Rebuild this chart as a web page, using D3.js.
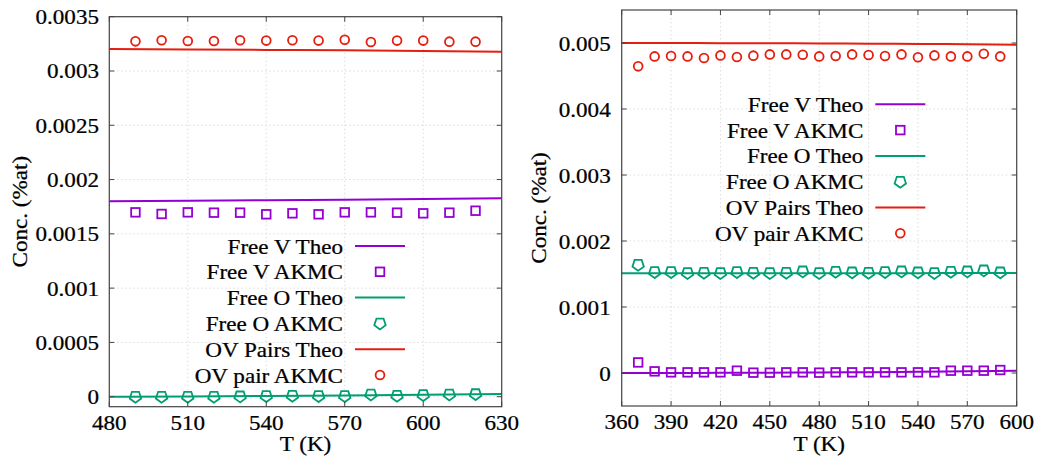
<!DOCTYPE html>
<html>
<head>
<meta charset="utf-8">
<script src="https://cdn.jsdelivr.net/npm/d3@7"></script>
<style>
  body { margin: 0; background: #fff; }
  svg { display: block; }
  text { font-family: "Liberation Serif", "DejaVu Serif", serif; fill: #000; stroke: #000; stroke-width: 0.25px; }
</style>
</head>
<body>
<svg id="chart" width="1046" height="457"></svg>
<script>
// ---- left panel data (T in K, concentrations in %at)
var leftT = [490, 500, 510, 520, 530, 540, 550, 560, 570, 580, 590, 600, 610, 620];
var leftV = [0.001698, 0.001683, 0.001698, 0.001695, 0.001695, 0.00168, 0.001689, 0.00168, 0.001698, 0.001698, 0.001695, 0.001689, 0.001695, 0.001713];
var leftO = [0, 0, 0, 0, 0.000003, 0.000006, 0.000009, 0.000006, 0.000006, 0.000021, 0.000009, 0.000015, 0.000021, 0.000024];
var leftOV = [0.003273, 0.003283, 0.003276, 0.003276, 0.003283, 0.00328, 0.003283, 0.00328, 0.003288, 0.003267, 0.00328, 0.00328, 0.00327, 0.00327];
var leftTheoT = [480, 510, 540, 570, 600, 630];
var leftVTheo = [0.0018, 0.001805, 0.00181, 0.001815, 0.00182, 0.001827];
var leftOTheo = [0, 0.000003, 0.000007, 0.000012, 0.000018, 0.000025];
var leftOVTheo = [0.003202, 0.003198, 0.003194, 0.00319, 0.003185, 0.003178];
var leftXTicks = [480, 510, 540, 570, 600, 630];
var leftYTicks = [0, 0.0005, 0.001, 0.0015, 0.002, 0.0025, 0.003, 0.0035];
var leftYLabels = ["0", "0.0005", "0.001", "0.0015", "0.002", "0.0025", "0.003", "0.0035"];

// ---- right panel data
var rightT = [370, 380, 390, 400, 410, 420, 430, 440, 450, 460, 470, 480, 490, 500, 510, 520, 530, 540, 550, 560, 570, 580, 590];
var rightV = [0.00016, 0.000025, 0.00001, 0.00001, 0.00001, 0.00001, 0.000035, 0.000005, 0.000005, 0.00001, 0.00001, 0.000005, 0.00001, 0.00001, 0.00001, 0.00001, 0.00001, 0.00001, 0.00001, 0.000035, 0.000035, 0.000035, 0.000045];
var rightO = [0.00164, 0.00153, 0.00153, 0.001515, 0.00152, 0.001515, 0.00153, 0.00152, 0.001515, 0.00152, 0.00154, 0.001515, 0.001535, 0.001525, 0.00152, 0.00153, 0.00154, 0.001525, 0.001515, 0.001535, 0.00154, 0.001555, 0.001525];
var rightOV = [0.004646, 0.004797, 0.004803, 0.004797, 0.004773, 0.004812, 0.004788, 0.004808, 0.004827, 0.004827, 0.004823, 0.004797, 0.004803, 0.004827, 0.004818, 0.004803, 0.004827, 0.004783, 0.004812, 0.004797, 0.004797, 0.004838, 0.004797];
var rightTheoT = [360, 390, 420, 450, 480, 510, 540, 570, 600];
var rightVTheo = [0, 0, 0.000002, 0.000004, 0.000008, 0.000012, 0.000018, 0.000026, 0.000035];
var rightOTheo = [0.00151, 0.00151, 0.00151, 0.00151, 0.001511, 0.001512, 0.001513, 0.001514, 0.001515];
var rightOVTheo = [0.005, 0.004999, 0.004998, 0.004996, 0.004993, 0.00499, 0.004986, 0.004981, 0.004975];
var rightXTicks = [360, 390, 420, 450, 480, 510, 540, 570, 600];
var rightYTicks = [0, 0.001, 0.002, 0.003, 0.004, 0.005];
var rightYLabels = ["0", "0.001", "0.002", "0.003", "0.004", "0.005"];

var legendNames = ["Free V Theo", "Free V AKMC", "Free O Theo", "Free O AKMC", "OV Pairs Theo", "OV pair AKMC"];

var purple = "#9400d3", green = "#009e73", red = "#e51e10";
var FS = 21, SX = 1.1;

var svg = d3.select("#chart");

function txt(g, x, y, s, anchor, rot) {
  var t = "translate(" + x + "," + y + ")" + (rot ? " rotate(-90)" : "") + " scale(" + SX + ",1)";
  return g.append("text").attr("transform", t)
    .attr("text-anchor", anchor || "start")
    .style("font-size", FS + "px")
    .text(s);
}

// pentagon with flat top, point down
function pentagon(r) {
  var pts = [0, 1, 2, 3, 4].map(function(i) {
    var a = Math.PI / 2 + i * 2 * Math.PI / 5;
    return [r * Math.cos(a), r * Math.sin(a)];
  });
  return "M" + pts.join("L") + "Z";
}

function marker(g, kind, x, y, col) {
  if (kind == "sq") {
    g.append("rect").attr("x", x - 4.3).attr("y", y - 4.3).attr("width", 8.6).attr("height", 8.6)
      .attr("fill", "none").attr("stroke", col).attr("stroke-width", 1.8);
  } else if (kind == "pent") {
    g.append("path").attr("d", pentagon(6)).attr("transform", "translate(" + x + "," + y + ")")
      .attr("fill", "none").attr("stroke", col).attr("stroke-width", 1.8);
  } else {
    g.append("circle").attr("cx", x).attr("cy", y).attr("r", 4.4)
      .attr("fill", "none").attr("stroke", col).attr("stroke-width", 1.8);
  }
}

function drawPanel(p) {
  var g = svg.append("g");
  var x = d3.scaleLinear().domain(p.xDomain).range([p.left, p.right]);
  var y = d3.scaleLinear().domain(p.yDomain).range([p.bottom, p.top]);

  // grid
  g.selectAll(".gx").data(p.xTicks).enter().append("line")
    .attr("x1", d => x(d)).attr("x2", d => x(d)).attr("y1", p.top).attr("y2", p.bottom)
    .attr("stroke", "#d4d4d4").attr("stroke-width", 0.8).attr("stroke-dasharray", "1.5,2.5");
  g.selectAll(".gy").data(p.yTicks).enter().append("line")
    .attr("x1", p.left).attr("x2", p.right).attr("y1", d => y(d)).attr("y2", d => y(d))
    .attr("stroke", "#d4d4d4").attr("stroke-width", 0.8).attr("stroke-dasharray", "1.5,2.5");

  // theory curves
  var line = d3.line().x(d => x(d[0])).y(d => y(d[1])).curve(d3.curveMonotoneX);
  var theo = [[p.vTheo, purple], [p.oTheo, green], [p.ovTheo, red]];
  theo.forEach(function(s) {
    g.append("path").datum(p.theoT.map((t, i) => [t, s[0][i]]))
      .attr("d", line).attr("fill", "none").attr("stroke", s[1]).attr("stroke-width", 2);
  });

  // AKMC points
  p.T.forEach(function(t, i) {
    marker(g, "sq", x(t), y(p.V[i]), purple);
    marker(g, "pent", x(t), y(p.O[i]), green);
    marker(g, "circ", x(t), y(p.OV[i]), red);
  });

  // border + ticks (mirrored, inward)
  g.append("rect").attr("x", p.left).attr("y", p.top)
    .attr("width", p.right - p.left).attr("height", p.bottom - p.top)
    .attr("fill", "none").attr("stroke", "#444").attr("stroke-width", 1.2);
  var tl = 5;
  p.xTicks.forEach(function(d) {
    g.append("line").attr("x1", x(d)).attr("x2", x(d)).attr("y1", p.bottom).attr("y2", p.bottom - tl).attr("stroke", "#444");
    g.append("line").attr("x1", x(d)).attr("x2", x(d)).attr("y1", p.top).attr("y2", p.top + tl).attr("stroke", "#444");
    txt(g, x(d), p.bottom + 23, String(d), "middle");
  });
  p.yTicks.forEach(function(d, i) {
    g.append("line").attr("x1", p.left).attr("x2", p.left + tl).attr("y1", y(d)).attr("y2", y(d)).attr("stroke", "#444");
    g.append("line").attr("x1", p.right).attr("x2", p.right - tl).attr("y1", y(d)).attr("y2", y(d)).attr("stroke", "#444");
    txt(g, p.yLabelX, y(d) + 7.5, p.yLabels[i], "end");
  });

  // axis titles
  txt(g, (p.left + p.right) / 2, 451, "T (K)", "middle");
  txt(g, p.yTitleX, (p.top + p.bottom) / 2, "Conc. (%at)", "middle", true);

  // legend
  var kinds = ["line", "sq", "line", "pent", "line", "circ"];
  var cols = [purple, purple, green, green, red, red];
  legendNames.forEach(function(name, i) {
    var ly = p.legY + i * 25.8;
    txt(g, p.legX, ly + 7.5, name, "end");
    if (kinds[i] == "line") {
      g.append("line").attr("x1", p.legX + 12).attr("x2", p.legX + 62).attr("y1", ly).attr("y2", ly)
        .attr("stroke", cols[i]).attr("stroke-width", 2);
    } else {
      marker(g, kinds[i], p.legX + 37, ly, cols[i]);
    }
  });
}

drawPanel({
  left: 109.3, right: 501.7, top: 16.7, bottom: 406.7,
  xDomain: [480, 630], yDomain: [-0.0000921, 0.0035],
  xTicks: leftXTicks, yTicks: leftYTicks, yLabels: leftYLabels, yLabelX: 99,
  T: leftT, V: leftV, O: leftO, OV: leftOV,
  theoT: leftTheoT, vTheo: leftVTheo, oTheo: leftOTheo, ovTheo: leftOVTheo,
  yTitleX: 27, legX: 343, legY: 246
});

drawPanel({
  left: 621.7, right: 1016.7, top: 10, bottom: 406,
  xDomain: [360, 600], yDomain: [-0.0005, 0.0055],
  xTicks: rightXTicks, yTicks: rightYTicks, yLabels: rightYLabels, yLabelX: 610.7,
  T: rightT, V: rightV, O: rightO, OV: rightOV,
  theoT: rightTheoT, vTheo: rightVTheo, oTheo: rightOTheo, ovTheo: rightOVTheo,
  yTitleX: 546, legX: 863.3, legY: 104.3
});
</script>
</body>
</html>
